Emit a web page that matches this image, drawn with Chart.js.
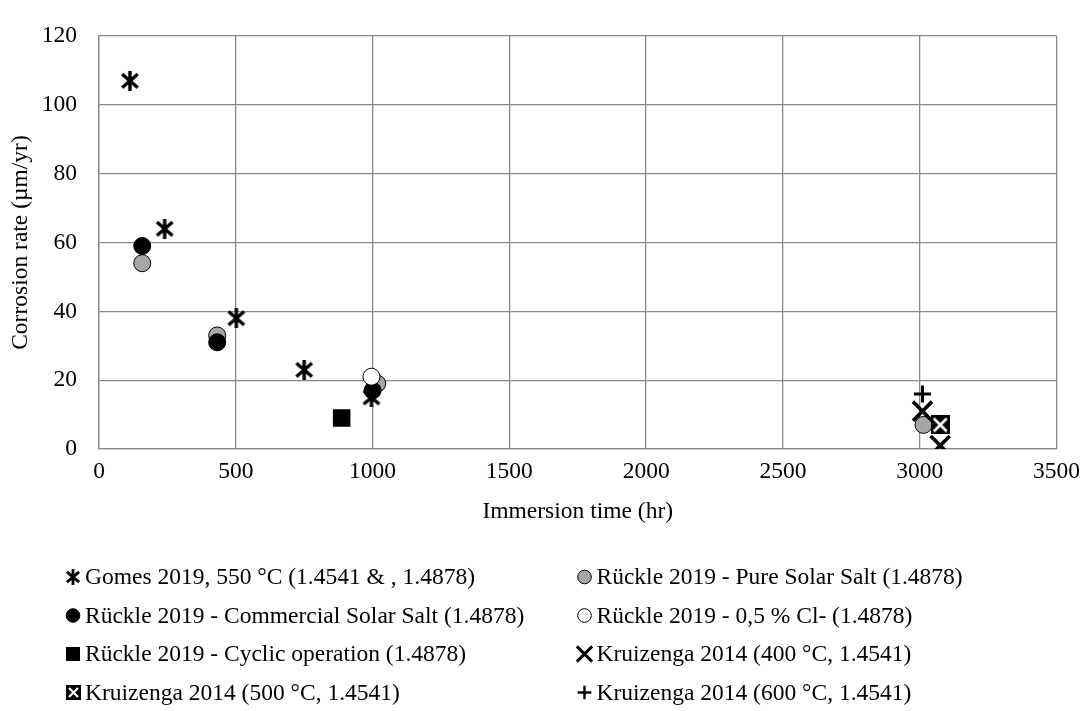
<!DOCTYPE html>
<html>
<head>
<meta charset="utf-8">
<script src="https://cdn.jsdelivr.net/npm/chart.js@4.4.0/dist/chart.umd.min.js"></script>
<style>
  html, body { margin: 0; padding: 0; background: #ffffff; }
  #wrap { width: 1089px; height: 711px; position: relative; }
</style>
</head>
<body>
<div id="wrap"><canvas id="c" width="1089" height="711"></canvas></div>
<script>
// ---------------- data ----------------
const seriesLabels = [
  'Gomes 2019, 550 °C (1.4541 & , 1.4878)',
  'Rückle 2019 - Pure Solar Salt (1.4878)',
  'Rückle 2019 - Commercial Solar Salt (1.4878)',
  'Rückle 2019 - 0,5 % Cl- (1.4878)',
  'Rückle 2019 - Cyclic operation (1.4878)',
  'Kruizenga 2014 (400 °C, 1.4541)',
  'Kruizenga 2014 (500 °C, 1.4541)',
  'Kruizenga 2014 (600 °C, 1.4541)'
];
const gomesTime = [113, 240, 502, 750, 996];
const gomesRate = [107, 64, 38, 23, 15];
const pureTime = [158, 432, 1017, 3014];
const pureRate = [54, 33, 19, 7];
const commercialTime = [158, 432, 1000];
const commercialRate = [59, 31, 17];
const chlorideTime = [996];
const chlorideRate = [21];
const cyclicTime = [887];
const cyclicRate = [9];
const kru400Time = [3010, 3075];
const kru400Rate = [11, 1];
const kru500Time = [3075];
const kru500Rate = [7];
const kru600Time = [3010];
const kru600Rate = [16];
const xTickValues = [0, 500, 1000, 1500, 2000, 2500, 3000, 3500];
const yTickValues = [0, 20, 40, 60, 80, 100, 120];

// ---------------- helpers ----------------
const FONT_FAMILY = "'Liberation Serif', 'Times New Roman', serif";
const FONT_SIZE = 23.5;
const GRID = '#8a8a8a';

function pts(xs, ys) { return xs.map((x, i) => ({ x: x, y: ys[i] })); }

function makeAsterisk(size, lw) {
  const c = document.createElement('canvas');
  c.width = size; c.height = size;
  const g = c.getContext('2d');
  g.strokeStyle = '#000'; g.lineWidth = lw; g.lineCap = 'butt';
  const m = lw / 2 + 0.5;
  g.beginPath();
  g.moveTo(m, m + 1); g.lineTo(size - m, size - m - 1);
  g.moveTo(size - m, m + 1); g.lineTo(m, size - m - 1);
  g.moveTo(size / 2, 0); g.lineTo(size / 2, size);
  g.stroke();
  return c;
}
function makeBoxedX(size, lw) {
  const c = document.createElement('canvas');
  c.width = size; c.height = size;
  const g = c.getContext('2d');
  g.fillStyle = '#000'; g.fillRect(0, 0, size, size);
  g.strokeStyle = '#fff'; g.lineWidth = lw;
  const m = 3;
  g.beginPath();
  g.moveTo(m, m); g.lineTo(size - m, size - m);
  g.moveTo(size - m, m); g.lineTo(m, size - m);
  g.stroke();
  return c;
}
const asteriskImg = makeAsterisk(20, 3.4);
const boxedXImg = makeBoxedX(19, 2.6);
const asteriskLegend = makeAsterisk(16, 2.8);
const boxedXLegend = makeBoxedX(15, 2.2);

const styles = [
  { pointStyle: asteriskImg, legendImg: asteriskLegend, radius: 10, bg: '#000', bd: '#000', bw: 0 },
  { pointStyle: 'circle', radius: 8.5, bg: '#a6a6a6', bd: '#000', bw: 1 },
  { pointStyle: 'circle', radius: 8.5, bg: '#000', bd: '#000', bw: 1 },
  { pointStyle: 'circle', radius: 8.5, bg: '#fff', bd: '#000', bw: 1 },
  { pointStyle: 'rect', radius: 12.4, bg: '#000', bd: '#000', bw: 0 },
  { pointStyle: 'crossRot', radius: 13.5, bg: '#000', bd: '#000', bw: 3.6 },
  { pointStyle: boxedXImg, legendImg: boxedXLegend, radius: 9, bg: '#000', bd: '#000', bw: 0 },
  { pointStyle: 'cross', radius: 8.5, bg: '#000', bd: '#000', bw: 3 }
];
const seriesData = [
  pts(gomesTime, gomesRate),
  pts(pureTime, pureRate),
  pts(commercialTime, commercialRate),
  pts(chlorideTime, chlorideRate),
  pts(cyclicTime, cyclicRate),
  pts(kru400Time, kru400Rate),
  pts(kru500Time, kru500Rate),
  pts(kru600Time, kru600Rate)
];

const datasets = seriesLabels.map((label, i) => ({
  label: label,
  data: seriesData[i],
  pointStyle: styles[i].pointStyle,
  pointRadius: styles[i].radius,
  pointHoverRadius: styles[i].radius,
  backgroundColor: styles[i].bg,
  borderColor: styles[i].bd,
  pointBorderWidth: styles[i].bw,
  borderWidth: styles[i].bw,
  showLine: false,
  order: 20 - i
}));

// ---------------- two-column legend plugin ----------------
function drawLegendMarker(ctx, st, x, y, scale) {
  ctx.save();
  if (st.legendImg) {
    const s = st.legendImg.width;
    ctx.drawImage(st.legendImg, Math.round(x - s / 2), Math.round(y - s / 2));
    ctx.restore();
    return;
  }
  const r = st.radius * scale;
  ctx.fillStyle = st.bg;
  ctx.strokeStyle = st.bd;
  ctx.lineWidth = st.bw * (st.pointStyle === 'circle' ? 1 : scale);
  ctx.beginPath();
  if (st.pointStyle === 'circle') {
    ctx.arc(x, y, r, 0, Math.PI * 2);
    ctx.fill(); if (st.bw) ctx.stroke();
  } else if (st.pointStyle === 'rect') {
    const s = Math.SQRT1_2 * r;
    ctx.rect(x - s, y - s, 2 * s, 2 * s);
    ctx.fill();
  } else if (st.pointStyle === 'crossRot') {
    const o = Math.SQRT1_2 * r;
    ctx.moveTo(x - o, y - o); ctx.lineTo(x + o, y + o);
    ctx.moveTo(x + o, y - o); ctx.lineTo(x - o, y + o);
    ctx.stroke();
  } else if (st.pointStyle === 'cross') {
    ctx.moveTo(x - r, y); ctx.lineTo(x + r, y);
    ctx.moveTo(x, y - r); ctx.lineTo(x, y + r);
    ctx.stroke();
  }
  ctx.restore();
}

const columnLegend = {
  id: 'columnLegend',
  afterDraw(chart) {
    const ctx = chart.ctx;
    const colMarkerX = [73, 584.5];
    const top = 577, rowGap = 38.5, textGap = 12;
    ctx.save();
    ctx.font = FONT_SIZE + 'px ' + FONT_FAMILY;
    ctx.textBaseline = 'middle';
    ctx.textAlign = 'left';
    ctx.fillStyle = '#000';
    chart.data.datasets.forEach((ds, i) => {
      const col = i % 2, row = Math.floor(i / 2);
      const mx = colMarkerX[col];
      const y = top + row * rowGap;
      drawLegendMarker(ctx, styles[i], mx, y, 0.8);
      ctx.fillStyle = '#000';
      ctx.fillText(ds.label, mx + textGap, y + 1);
    });
    ctx.restore();
  }
};

// ---------------- chart ----------------
const tickFont = { family: FONT_FAMILY, size: FONT_SIZE };
const plainNumber = (v) => String(v);
new Chart(document.getElementById('c'), {
  type: 'scatter',
  data: { datasets: datasets },
  options: {
    responsive: false,
    animation: false,
    devicePixelRatio: 1,
    layout: { padding: { left: 0, top: 18, right: 30, bottom: 184.6 } },
    plugins: {
      legend: { display: false },
      tooltip: { enabled: false }
    },
    scales: {
      x: {
        type: 'linear',
        position: 'bottom',
        min: 0, max: 3500,
        afterBuildTicks: (scale) => { scale.ticks = xTickValues.map(v => ({ value: v })); },
        ticks: { font: tickFont, color: '#000', padding: 9, maxRotation: 0, callback: plainNumber },
        grid: { color: GRID, lineWidth: 1.3, drawTicks: false },
        border: { color: GRID, width: 1.3 },
        title: {
          display: true, text: 'Immersion time (hr)', color: '#000',
          font: { family: FONT_FAMILY, size: FONT_SIZE }, padding: { top: 0, bottom: 0 }
        },
        afterFit: (scale) => { scale.height = 77.4; }
      },
      y: {
        type: 'linear',
        min: 0, max: 120,
        afterBuildTicks: (scale) => { scale.ticks = yTickValues.map(v => ({ value: v })); },
        ticks: { font: tickFont, color: '#000', padding: 22, callback: plainNumber },
        grid: { color: GRID, lineWidth: 1.3, drawTicks: false },
        border: { color: GRID, width: 1.3 },
        title: {
          display: true, text: 'Corrosion rate (µm/yr)', color: '#000',
          font: { family: FONT_FAMILY, size: FONT_SIZE }, padding: { top: 7, bottom: 0 }
        },
        afterFit: (scale) => { scale.width = 99; }
      }
    }
  },
  plugins: [columnLegend]
});
</script>
</body>
</html>
